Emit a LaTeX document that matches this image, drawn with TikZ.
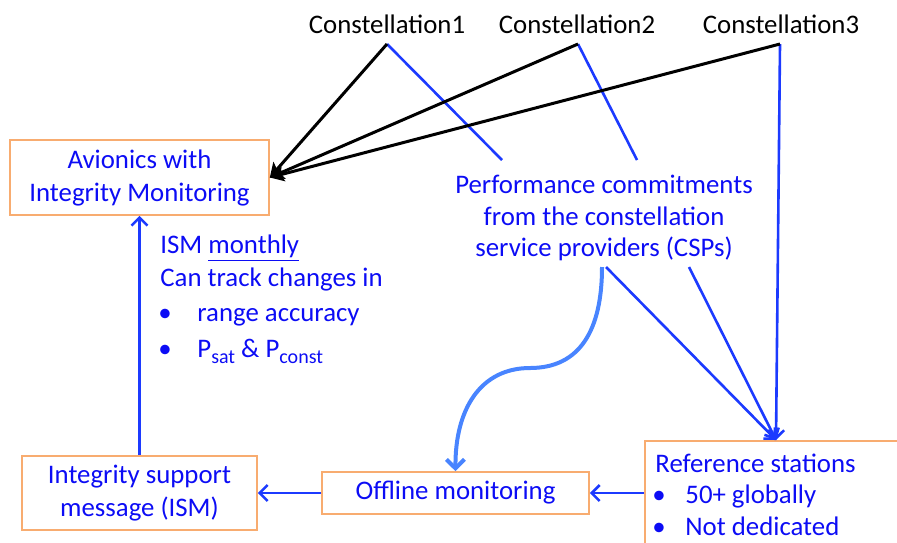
\documentclass[tikz,border=0pt]{standalone}
\usepackage{fontspec}
\setmainfont{Carlito}
\usetikzlibrary{positioning,calc,arrows.meta}
\definecolor{txtblue}{RGB}{12,12,245}
\definecolor{arrblue}{RGB}{28,58,255}
\definecolor{softblue}{RGB}{72,132,255}
\definecolor{boxorange}{RGB}{248,172,112}
\tikzset{box/.style={draw=boxorange,line width=0.8pt,text=txtblue,align=center,inner sep=0pt},
  const/.style={anchor=base,inner sep=0pt},
  lbl/.style={text=txtblue,anchor=base west,inner sep=0pt},
  conn/.style={line width=1.5pt,-{Stealth[length=7pt,width=7.5pt,inset=1.5pt]}},
  feed/.style={draw=arrblue,line width=1.3pt},
  feedarrow/.style={feed,-{Straight Barb[length=4pt,width=8pt]}},
  curvearrow/.style={draw=softblue,line width=2pt,-{Straight Barb[length=4.5pt,width=9pt]}}}

\begin{document}
\begin{tikzpicture}[x=0.5pt,y=-0.5pt,font=\fontsize{13.4}{16.5}\selectfont]
\useasboundingbox (0,0) rectangle (897,542);
\clip (0,0) rectangle (897,542);

\node[const] (con1) at (387,33) {Constellation1};
\node[const] (con2) at (577,33) {Constellation2};
\node[const] (con3) at (781,33) {Constellation3};
\coordinate (c1) at (387,44); \coordinate (c2) at (578,44); \coordinate (c3) at (780,44);

\node[box,minimum width=129.5pt,minimum height=37.5pt,text depth=2pt] (avi) at (139.5,177.5) {Avionics with\\Integrity Monitoring};
\node[text=txtblue,align=center,inner sep=0pt,font=\fontsize{13.4}{15.75}\selectfont] (perf) at (604,218)
  {Performance commitments\\from the constellation\\service providers (CSPs)};
\node[box,minimum width=117.5pt,minimum height=37pt] (ism) at (139.5,493) {Integrity support\\message (ISM)};
\node[box,minimum width=133.5pt,minimum height=21pt] (off) at (455.5,493) {Offline monitoring};
\node[box,anchor=north west,minimum width=150pt,minimum height=75pt] (ref) at (644,440) {};

\node[lbl] (m1) at (160,253) {ISM \underline{monthly}};
\node[lbl] (m2) at (160,286) {Can track changes in};
\node[lbl] (b1) at (158,321) {\textbullet}; \node[lbl] (m3) at (197,321) {range accuracy};
\node[lbl] (b2) at (158,357) {\textbullet}; \node[lbl] (m4) at (197,357) {P\raisebox{-3pt}{\fontsize{10}{12}\selectfont sat} \& P\raisebox{-3pt}{\fontsize{10}{12}\selectfont const}};

\node[lbl] (r1) at (655,472) {Reference stations};
\node[lbl] (b3) at (652,503) {\textbullet}; \node[lbl] (r2) at (685,503) {50+ globally};
\node[lbl] (b4) at (652,535) {\textbullet}; \node[lbl] (r3) at (685,535) {Not dedicated};

\coordinate (p1) at (502,160); \coordinate (p2) at (637,160);
\coordinate (q0) at (602,267); \coordinate (q1) at (606,267); \coordinate (q2) at (689,267);
\coordinate (rs) at ([xshift=66pt]ref.north west);

\draw[feed] (c1) -- (p1); \draw[feed] (c2) -- (p2);
\draw[feedarrow] (c3) -- (rs); \draw[feedarrow] (q1) -- (rs); \draw[feedarrow] (q2) -- (rs);
\draw[conn] (c1) -- (avi.east); \draw[conn] (c2) -- (avi.east); \draw[conn] (c3) -- (avi.east);

\draw[curvearrow] (q0) .. controls (602,330) and (580,368) .. (530,368)
  .. controls (480,368) and (455,410) .. (off.north);
\draw[feedarrow] (ref.west |- off.east) -- (off.east);
\draw[feedarrow] (off.west) -- (ism.east);
\draw[feedarrow] (ism.north) -- (avi.south);
\end{tikzpicture}
\end{document}
